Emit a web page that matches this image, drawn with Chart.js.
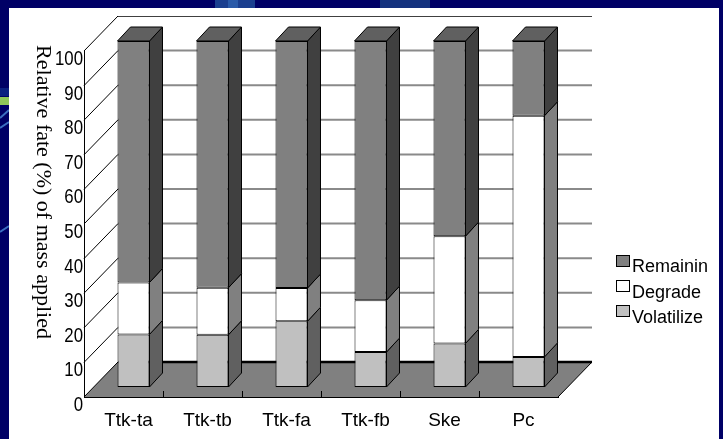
<!DOCTYPE html>
<html>
<head>
<meta charset="utf-8">
<script src="https://cdn.jsdelivr.net/npm/chart.js@4/dist/chart.umd.min.js"></script>
<style>
  html, body { margin: 0; padding: 0; background: #000066; }
  #wrap { width: 723px; height: 439px; }
</style>
</head>
<body>
<div id="wrap"><canvas id="c" width="723" height="439"></canvas></div>
<script>
// ---- data ----
const categories = ['Ttk-ta', 'Ttk-tb', 'Ttk-fa', 'Ttk-fb', 'Ske', 'Pc'];
const volatilize = [15.2, 15.1, 19.0, 10.1, 12.6, 8.7];
const degrade    = [15.0, 13.6, 9.6, 15.0, 31.0, 69.7];
const remaining  = [69.8, 71.3, 71.4, 74.9, 56.4, 21.6];
const yTicks     = [0, 10, 20, 30, 40, 50, 60, 70, 80, 90, 100];
const yTitle     = 'Relative fate (%) of mass applied';
const seriesNames = ['Volatilize', 'Degrade', 'Remainin'];

// ---- styling ----
const FRONT = ['#c0c0c0', '#ffffff', '#808080'];
const SIDE  = ['#606060', '#808080', '#404040'];
const TOP   = '#606060';
const WALL_DX = 34, WALL_DY = -35;   // back wall offset from front plane
const BAR_DX = 10, BAR_DY = -10;     // bar front face offset
const DEP_DX = 13, DEP_DY = -14;     // bar depth

const threeD = {
  id: 'threeD',
  beforeDraw(chart) {
    const ctx = chart.ctx;
    const xs = chart.scales.x, ys = chart.scales.y;
    ctx.save();
    // slide background
    ctx.fillStyle = '#000066';
    ctx.fillRect(0, 0, 723, 439);
    ctx.fillStyle = '#1b3f8f';
    ctx.fillRect(215, 0, 40, 8);
    ctx.fillStyle = '#2a5aa8';
    ctx.fillRect(228, 0, 10, 8);
    ctx.fillStyle = '#14327e';
    ctx.fillRect(380, 0, 50, 8);
    ctx.fillStyle = '#8fc65a';
    ctx.fillRect(0, 97, 9, 8);
    ctx.strokeStyle = '#3b6fc0';
    ctx.lineWidth = 2;
    ctx.beginPath();
    ctx.moveTo(0, 118); ctx.lineTo(9, 110);
    ctx.moveTo(0, 128); ctx.lineTo(9, 122);
    ctx.moveTo(0, 232); ctx.lineTo(9, 226);
    ctx.stroke();
    ctx.fillStyle = '#0a1f80';
    ctx.fillRect(0, 88, 9, 8);
    // white panel
    ctx.fillStyle = '#ffffff';
    ctx.fillRect(9, 8, 710, 431);

    const L = xs.left, R = xs.right;
    const y0 = ys.getPixelForValue(0), y100 = ys.getPixelForValue(100);
    // floor
    ctx.fillStyle = '#808080';
    ctx.beginPath();
    ctx.moveTo(L, y0); ctx.lineTo(R, y0);
    ctx.lineTo(R + WALL_DX, y0 + WALL_DY); ctx.lineTo(L + WALL_DX, y0 + WALL_DY);
    ctx.closePath(); ctx.fill();
    // back wall gridlines
    ctx.strokeStyle = '#8a8a8a';
    ctx.lineWidth = 2;
    yTicks.forEach(v => {
      if (v === 0 || v === 100) return;
      const py = ys.getPixelForValue(v) + WALL_DY;
      ctx.beginPath();
      ctx.moveTo(L + WALL_DX, py); ctx.lineTo(R + WALL_DX, py);
      ctx.stroke();
    });
    // top edge of back wall
    ctx.strokeStyle = '#404040';
    ctx.lineWidth = 1;
    ctx.beginPath();
    ctx.moveTo(L + WALL_DX, Math.round(y100 + WALL_DY) + 0.5);
    ctx.lineTo(R + WALL_DX, Math.round(y100 + WALL_DY) + 0.5);
    ctx.stroke();
    // back floor edge (thick)
    ctx.strokeStyle = '#000000';
    ctx.lineWidth = 2.5;
    ctx.beginPath();
    ctx.moveTo(L + WALL_DX, y0 + WALL_DY); ctx.lineTo(R + WALL_DX, y0 + WALL_DY);
    ctx.stroke();
    // left wall diagonals
    ctx.lineWidth = 1;
    ctx.strokeStyle = '#000000';
    yTicks.forEach(v => {
      const py = ys.getPixelForValue(v);
      ctx.beginPath();
      ctx.moveTo(L, py); ctx.lineTo(L + WALL_DX, py + WALL_DY);
      ctx.stroke();
    });
    // right floor edge
    ctx.beginPath();
    ctx.moveTo(R, y0); ctx.lineTo(R + WALL_DX, y0 + WALL_DY);
    ctx.stroke();
    // category separators on floor front edge
    for (let i = 1; i < categories.length; i++) {
      const px = Math.round((xs.getPixelForValue(i - 1) + xs.getPixelForValue(i)) / 2) + 0.5;
      ctx.beginPath();
      ctx.moveTo(px, y0); ctx.lineTo(px, y0 - 6);
      ctx.stroke();
    }
    ctx.restore();
  },
  beforeDatasetsDraw(chart) {
    chart.ctx.save();
    chart.ctx.translate(BAR_DX, BAR_DY);
  },
  afterDatasetsDraw(chart) {
    const ctx = chart.ctx;
    const n = chart.data.datasets.length;
    ctx.lineWidth = 1;
    ctx.strokeStyle = '#000000';
    ctx.lineJoin = 'miter';
    for (let d = 0; d < n; d++) {
      const meta = chart.getDatasetMeta(d);
      meta.data.forEach(el => {
        const p = el.getProps(['x', 'y', 'base', 'width'], true);
        const rx = p.x + p.width / 2, lx = p.x - p.width / 2;
        const top = Math.min(p.y, p.base), bot = Math.max(p.y, p.base);
        if (bot - top < 0.01) return;
        ctx.fillStyle = SIDE[d];
        ctx.beginPath();
        ctx.moveTo(rx, top); ctx.lineTo(rx + DEP_DX, top + DEP_DY);
        ctx.lineTo(rx + DEP_DX, bot + DEP_DY); ctx.lineTo(rx, bot);
        ctx.closePath(); ctx.fill(); ctx.stroke();
        if (d === n - 1) {
          ctx.fillStyle = TOP;
          ctx.beginPath();
          ctx.moveTo(lx, top); ctx.lineTo(lx + DEP_DX, top + DEP_DY);
          ctx.lineTo(rx + DEP_DX, top + DEP_DY); ctx.lineTo(rx, top);
          ctx.closePath(); ctx.fill(); ctx.stroke();
        }
      });
    }
    ctx.restore();
  },
  afterDraw(chart) {
    const ctx = chart.ctx;
    const ys = chart.scales.y;
    // y tick labels (narrow, like the original's condensed digits)
    ctx.save();
    ctx.fillStyle = '#000000';
    ctx.font = '21px "Liberation Sans", Arial, sans-serif';
    ctx.textAlign = 'right';
    ctx.textBaseline = 'alphabetic';
    ys.ticks.forEach(t => {
      const py = ys.getPixelForValue(t.value);
      ctx.save();
      ctx.translate(83, py + 14);
      ctx.scale(0.8, 1);
      ctx.fillText(String(t.value), 0, 0);
      ctx.restore();
    });
    ctx.restore();
    // y axis title (reads top to bottom)
    ctx.save();
    ctx.translate(43, 192);
    ctx.rotate(Math.PI / 2);
    ctx.fillStyle = '#000000';
    ctx.font = '22px "Liberation Serif", "Times New Roman", serif';
    ctx.textAlign = 'center';
    ctx.textBaseline = 'middle';
    ctx.fillText(yTitle, 0, 0);
    ctx.restore();
    // legend (top series first)
    ctx.save();
    ctx.font = '18px "Liberation Sans", Arial, sans-serif';
    ctx.textBaseline = 'alphabetic';
    ctx.textAlign = 'left';
    const rows = [2, 1, 0];
    const sqTop = [255, 280, 305];
    const base = [272, 298, 323];
    rows.forEach((d, i) => {
      ctx.fillStyle = FRONT[d];
      ctx.fillRect(616.5, sqTop[i] + 0.5, 13, 11);
      ctx.strokeStyle = '#000000';
      ctx.lineWidth = 1;
      ctx.strokeRect(616.5, sqTop[i] + 0.5, 13, 11);
      ctx.fillStyle = '#000000';
      ctx.fillText(chart.data.datasets[d].label, 632, base[i]);
    });
    ctx.restore();
  }
};

const datasets = [volatilize, degrade, remaining].map((arr, i) => ({
  label: seriesNames[i],
  data: arr,
  backgroundColor: FRONT[i],
  borderColor: '#000000',
  borderWidth: 1,
  borderSkipped: false,
  categoryPercentage: 1.0,
  barPercentage: 0.405
}));

new Chart(document.getElementById('c'), {
  type: 'bar',
  data: { labels: categories, datasets },
  plugins: [threeD],
  options: {
    responsive: false,
    animation: false,
    devicePixelRatio: 1,
    layout: { padding: { top: 51, right: 165, left: 0, bottom: 0 } },
    plugins: { legend: { display: false }, tooltip: { enabled: false } },
    scales: {
      x: {
        stacked: true,
        grid: { display: false },
        border: { display: true, color: '#000000', width: 1 },
        ticks: {
          color: '#000000',
          font: { family: '"Liberation Sans", Arial, sans-serif', size: 19 },
          padding: 4,
          labelOffset: 5,
          maxRotation: 0,
          autoSkip: false
        },
        afterFit(s) { s.height = 42; }
      },
      y: {
        stacked: true,
        min: 0, max: 100,
        grid: { display: false },
        border: { display: true, color: '#000000', width: 1 },
        ticks: {
          stepSize: 10,
          display: false
        },
        afterFit(s) { s.width = 84; }
      }
    }
  }
});
</script>
</body>
</html>
